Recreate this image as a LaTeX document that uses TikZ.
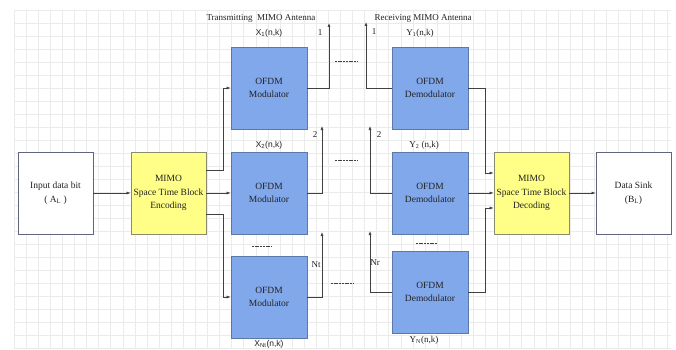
\documentclass[tikz,border=0pt]{standalone}
\usepackage{fontspec}
\setmainfont{Liberation Serif}
\newfontfamily\labsans{Liberation Sans}
\usetikzlibrary{arrows.meta,calc}
\definecolor{gridc}{HTML}{EBEBEB}
\definecolor{bluefill}{HTML}{82A8EC}
\definecolor{blueedge}{HTML}{5A78A8}
\definecolor{yelfill}{HTML}{FFFF88}
\definecolor{yeledge}{HTML}{8A8A70}
\definecolor{whiteedge}{HTML}{60647E}
\definecolor{linec}{HTML}{404040}
\definecolor{txtc}{HTML}{222222}
\tikzset{
  blk/.style={rectangle, draw, line width=0.7pt, minimum width=76pt, minimum height=82pt, align=center, font=\fontsize{9.5}{13.5}\selectfont, text=txtc, inner sep=0pt},
  ofdm/.style={blk, fill=bluefill, draw=blueedge},
  stbc/.style={blk, fill=yelfill, draw=yeledge, minimum width=75pt},
  endbox/.style={blk, fill=white, draw=whiteedge, minimum width=75pt},
  arr/.style={draw=linec, line width=0.6pt, -{Latex[length=4pt,width=3pt]}},
  lab/.style={font=\fontsize{9}{10}\selectfont, text=txtc, inner sep=0pt},
  slab/.style={font=\labsans\fontsize{8.5}{10}\selectfont, text=txtc, inner sep=0pt},
  dsh/.style={draw=linec, line width=0.6pt, dash pattern=on 2pt off 0.7pt}
}
\begin{document}
\begin{tikzpicture}[x=1pt,y=-1pt]
\useasboundingbox (0,0) rectangle (676,350);
\fill[white] (0,0) rectangle (676,350);
% grid
\foreach \i in {0,...,54} { \draw[gridc, line width=0.6pt] ({14+12.09*\i},10) -- ({14+12.09*\i},348); }
\foreach \j in {0,...,26} { \draw[gridc, line width=0.6pt] (14,{10+13*\j}) -- (671,{10+13*\j}); }
% blocks
\node[endbox] (in) at (55.5,193) {Input data bit\\( A\textsubscript{L} )};
\node[stbc] (enc) at (168.5,193) {MIMO\\Space Time Block\\Encoding};
\node[ofdm] (m1) at (269,88) {OFDM\\Modulator};
\node[ofdm] (m2) at (269,193) {OFDM\\Modulator};
\node[ofdm] (mn) at (269,297) {OFDM\\Modulator};
\node[ofdm] (d1) at (430,88) {OFDM\\Demodulator};
\node[ofdm] (d2) at (430,193) {OFDM\\Demodulator};
\node[ofdm] (dn) at (430,292) {OFDM\\Demodulator};
\node[stbc] (dec) at (531.5,193) {MIMO\\Space Time Block\\Decoding};
\node[endbox] (sink) at (633.5,193) {Data Sink\\(B\textsubscript{L})};
% antenna ends
\coordinate (a1) at (329,23);
\coordinate (a2) at (322,126);
\coordinate (an) at (322,232);
\coordinate (b1) at (366,22);
\coordinate (b2) at (370,126);
\coordinate (bn) at (370,231);
% connectors
\draw[arr] (in) -- (enc);
\draw[arr] (enc) -- (m2);
\draw[arr] ($(enc.east)+(0,-23)$) -- ++(17,0) |- (m1.west);
\draw[arr] ($(enc.east)+(0,21)$) -- ++(17,0) |- (mn.west);
\draw[arr] (m1.east) -| (a1);
\draw[arr] (m2.east) -| (a2);
\draw[arr] (mn.east) -| (an);
\draw[arr] (d1.west) -| (b1);
\draw[arr] (d2.west) -| (b2);
\draw[arr] (dn.west) -| (bn);
\draw[arr] (d1.east) -- ++(17,0) |- ($(dec.west)+(0,-20)$);
\draw[arr] (d2) -- (dec);
\draw[arr] (dn.east) -- ++(17,0) |- ($(dec.west)+(0,15)$);
\draw[arr] (dec) -- (sink);
% channel dashes
\draw[dsh] (335,61) -- (358,61);
\draw[dsh] (335,160) -- (358,160);
\draw[dsh] (331,283) -- (353,283);
\draw[dsh] (252,246) -- (272,246);
\draw[dsh] (416,243) -- (437,243);
% labels
\node[lab] (tt) at (261,18) {Transmitting\ \ MIMO Antenna};
\node[lab] (rt) at (423,18) {Receiving MIMO Antenna};
\node[lab] (n1) at (320,33) {1};
\node[lab] (n2) at (315,135) {2};
\node[lab] (nt) at (316,265) {Nt};
\node[lab] (r1) at (374,32) {1};
\node[lab] (r2) at (379,135) {2};
\node[lab] (nr) at (375,263) {Nr};
\node[slab] (x1) at (269,33) {X\textsubscript{1}(n,k)};
\node[slab] (x2) at (269,145) {X\textsubscript{2}(n,k)};
\node[slab] (xn) at (269,344) {X\textsubscript{Nt}(n,k)};
\node[lab] (y1) at (420,33) {Y\textsubscript{1}(n,k)};
\node[lab] (y2) at (424,145) {Y\textsubscript{2} (n,k)};
\node[lab] (yn) at (424,340) {Y\textsubscript{N}(n,k)};
\end{tikzpicture}
\end{document}
